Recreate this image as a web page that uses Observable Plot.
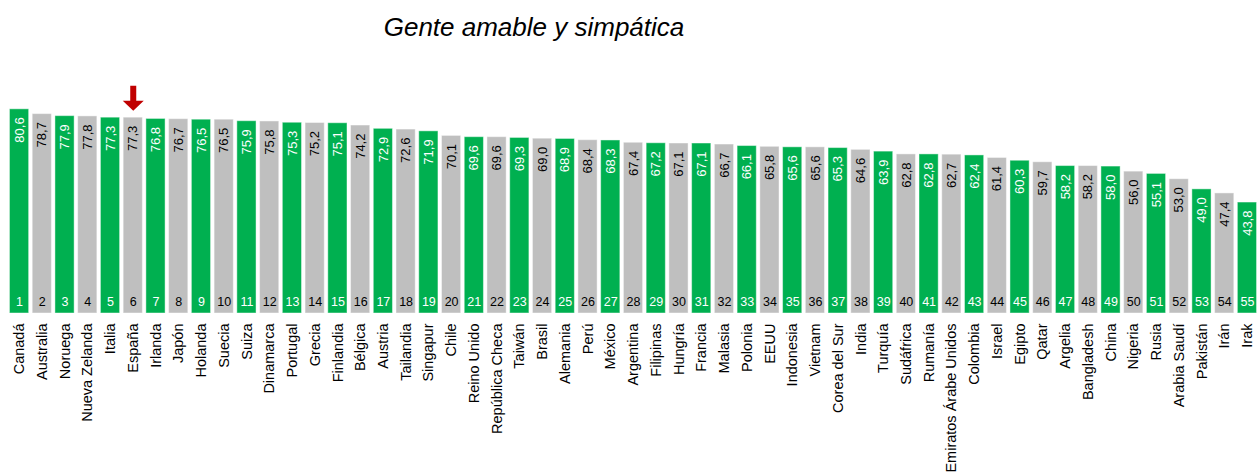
<!DOCTYPE html>
<html>
<head>
<meta charset="utf-8">
<script src="https://cdn.jsdelivr.net/npm/d3@7"></script>
<script src="https://cdn.jsdelivr.net/npm/@observablehq/plot@0.6"></script>
<style>
  html, body { margin: 0; padding: 0; background: #fff; }
  #wrap { position: relative; width: 1257px; height: 475px; overflow: hidden; }
  #title { position: relative; height: 50px; box-sizing: border-box; padding-top: 14px; }
  #title span { position: absolute; left: 534px; transform: translateX(-50%); white-space: nowrap;
    font-family: "Liberation Sans", Arial, sans-serif; font-style: italic; font-size: 26px; line-height: 26px; color: #000; }
  svg { display: block; }
</style>
</head>
<body>
<div id="wrap">
  <div id="title"><span>Gente amable y simpática</span></div>
  <div id="chart"></div>
</div>
<script>
const names = ["Canadá","Australia","Noruega","Nueva Zelanda","Italia","España","Irlanda","Japón","Holanda","Suecia",
  "Suiza","Dinamarca","Portugal","Grecia","Finlandia","Bélgica","Austria","Tailandia","Singapur","Chile",
  "Reino Unido","República Checa","Taiwán","Brasil","Alemania","Perú","México","Argentina","Filipinas","Hungría",
  "Francia","Malasia","Polonia","EEUU","Indonesia","Vietnam","Corea del Sur","India","Turquía","Sudáfrica",
  "Rumanía","Emiratos Árabe Unidos","Colombia","Israel","Egipto","Qatar","Argelia","Bangladesh","China","Nigeria",
  "Rusia","Arabia Saudí","Pakistán","Irán","Irak"];
const values = [80.6,78.7,77.9,77.8,77.3,77.3,76.8,76.7,76.5,76.5,
  75.9,75.8,75.3,75.2,75.1,74.2,72.9,72.6,71.9,70.1,
  69.6,69.6,69.3,69.0,68.9,68.4,68.3,67.4,67.2,67.1,
  67.1,66.7,66.1,65.8,65.6,65.6,65.3,64.6,63.9,62.8,
  62.8,62.7,62.4,61.4,60.3,59.7,58.2,58.2,58.0,56.0,
  55.1,53.0,49.0,47.4,43.8];
const ranks = [1,2,3,4,5,6,7,8,9,10,11,12,13,14,15,16,17,18,19,20,21,22,23,24,25,26,27,28,29,30,
  31,32,33,34,35,36,37,38,39,40,41,42,43,44,45,46,47,48,49,50,51,52,53,54,55];
const highlighted = ["España"];

const GREEN = "#00B050", GRAY = "#BFBFBF", RED = "#C00000";
const data = names.map((name, i) => ({name, value: values[i], rank: ranks[i]}));
const fmt = v => v.toFixed(1).replace(".", ",");
const barFill = d => d.rank % 2 ? GREEN : GRAY;
const textFill = d => d.rank % 2 ? "#ffffff" : "#000000";

const arrowSymbol = {
  draw(ctx) {
    ctx.moveTo(-3, -25); ctx.lineTo(3, -25); ctx.lineTo(3, -10);
    ctx.lineTo(10.5, -10); ctx.lineTo(0, 0); ctx.lineTo(-10.5, -10);
    ctx.lineTo(-3, -10); ctx.closePath();
  }
};

const chart = Plot.plot({
  width: 1257,
  height: 425,
  marginLeft: 9,
  marginRight: 0,
  marginTop: 35,
  marginBottom: 162,
  style: {fontFamily: "'Liberation Sans', Arial, sans-serif", background: "#fff"},
  x: {domain: names, paddingInner: 0.156, paddingOuter: 0.02, round: false, axis: null},
  y: {domain: [0, 90], axis: null},
  color: {type: "identity"},
  marks: [
    Plot.barY(data, {x: "name", y: "value", fill: barFill, stroke: "#ffffff", strokeOpacity: 0.45, strokeWidth: 1}),
    Plot.text(data, {x: "name", y: "value", text: d => fmt(d.value), rotate: -90, textAnchor: "end",
      dy: 8, fill: textFill, fontSize: 13}),
    Plot.text(data, {x: "name", y: d => 0, text: d => String(d.rank), dy: -12, fill: textFill, fontSize: 12.5}),
    Plot.text(data, {x: "name", y: d => 0, text: "name", rotate: -90, textAnchor: "end",
      dy: 10, fill: "#000", fontSize: 14.5}),
    Plot.dot(data.filter(d => highlighted.includes(d.name)), {x: "name", y: "value", symbol: arrowSymbol,
      r: 5, fill: RED, stroke: "none", dy: -7})
  ]
});
document.getElementById("chart").appendChild(chart);
</script>
</body>
</html>
